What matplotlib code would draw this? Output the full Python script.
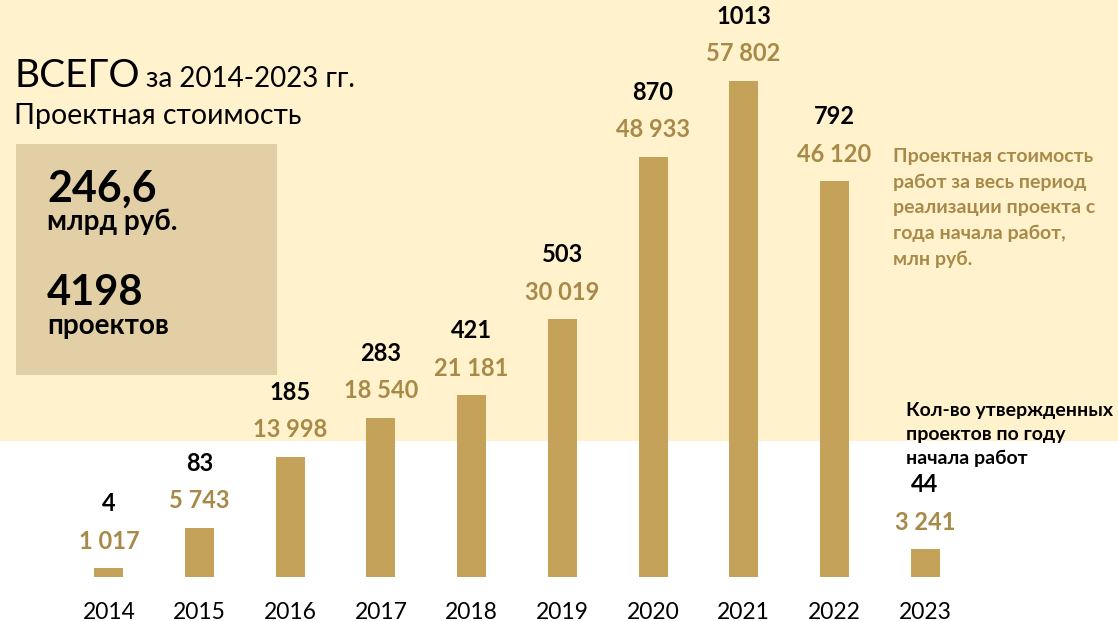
import matplotlib
matplotlib.use("Agg")
import matplotlib.pyplot as plt
from matplotlib.patches import Rectangle

years = ["2014", "2015", "2016", "2017", "2018", "2019", "2020", "2021", "2022", "2023"]
cost = [1017, 5743, 13998, 18540, 21181, 30019, 48933, 57802, 46120, 3241]
projects = [4, 83, 185, 283, 421, 503, 870, 1013, 792, 44]

W, H = 1118, 621
BAR = "#C4A25A"
GOLD = "#A88A48"
CREAM = "#FFF2CD"
BOX = "#E2CFA6"
FONT = ["Lato", "DejaVu Sans"]
plt.rcParams["font.family"] = FONT

fig = plt.figure(figsize=(W / 100, H / 100), dpi=100, facecolor="white")

def fx(x):
    return x / W

def fy(y):
    return 1 - y / H

# cream background panel
fig.patches.append(Rectangle((0, fy(441)), 1, 1 - fy(441), transform=fig.transFigure,
                             facecolor=CREAM, edgecolor="none", zorder=-10))
# summary box
fig.patches.append(Rectangle((fx(16), fy(375)), fx(277) - fx(16), fy(144) - fy(375),
                             transform=fig.transFigure, facecolor=BOX, edgecolor="none", zorder=-9))

x0 = 109 - 0.5 * 90.7
x1 = 925 + 0.5 * 90.7
ax = fig.add_axes([fx(x0), fy(577), fx(x1) - fx(x0), fy(2) - fy(577)])
ax.set_zorder(1)
ax.patch.set_alpha(0)
xs = list(range(len(years)))
bar_w = 29 / 90.7
ax.bar(xs, cost, width=bar_w, color=BAR, zorder=3)
ax.set_xlim(-0.5, len(years) - 0.5)
ax.set_ylim(0, 67000)
for s in ax.spines.values():
    s.set_visible(False)
ax.set_yticks([])
ax.set_xticks(xs)
ax.set_xticklabels(years, fontsize=16.5, color="black")
ax.tick_params(axis="x", length=0, pad=18)

for x, c, p in zip(xs, cost, projects):
    ax.annotate(f"{c:,}".replace(",", " "), (x, c), xytext=(0, 19.5), textcoords="offset points",
                ha="center", va="center", fontsize=17, fontweight="bold", color=GOLD)
    ax.annotate(str(p), (x, c), xytext=(0, 46.5), textcoords="offset points",
                ha="center", va="center", fontsize=17, fontweight="bold", color="black")

# titles
fig.text(fx(14), fy(87), "ВСЕГО", fontsize=28, color="black", va="baseline", ha="left")
fig.text(fx(146), fy(87), "за 2014-2023 гг.", fontsize=20, color="black", va="baseline", ha="left")
fig.text(fx(14), fy(116), "Проектная стоимость", fontsize=20.5, color="black", va="center", ha="left")

# box text
fig.text(fx(47), fy(189), "246,6", fontsize=31, fontweight="bold", va="center", ha="left")
fig.text(fx(47), fy(222), "млрд руб.", fontsize=20, fontweight="bold", va="center", ha="left")
fig.text(fx(47), fy(293), "4198", fontsize=30, fontweight="bold", va="center", ha="left")
fig.text(fx(47), fy(326), "проектов", fontsize=20, fontweight="bold", va="center", ha="left")

# right notes
fig.text(fx(893), fy(148), "Проектная стоимость\nработ за весь период\nреализации проекта с\nгода начала работ,\nмлн руб.",
         fontsize=14, fontweight="bold", color=GOLD, va="top", ha="left", linespacing=1.6)
fig.text(fx(906), fy(402), "Кол-во утвержденных\nпроектов по году\nначала работ",
         fontsize=14, fontweight="bold", color="black", va="top", ha="left", linespacing=1.5)

fig.savefig("out.png", dpi=100, facecolor="white")
